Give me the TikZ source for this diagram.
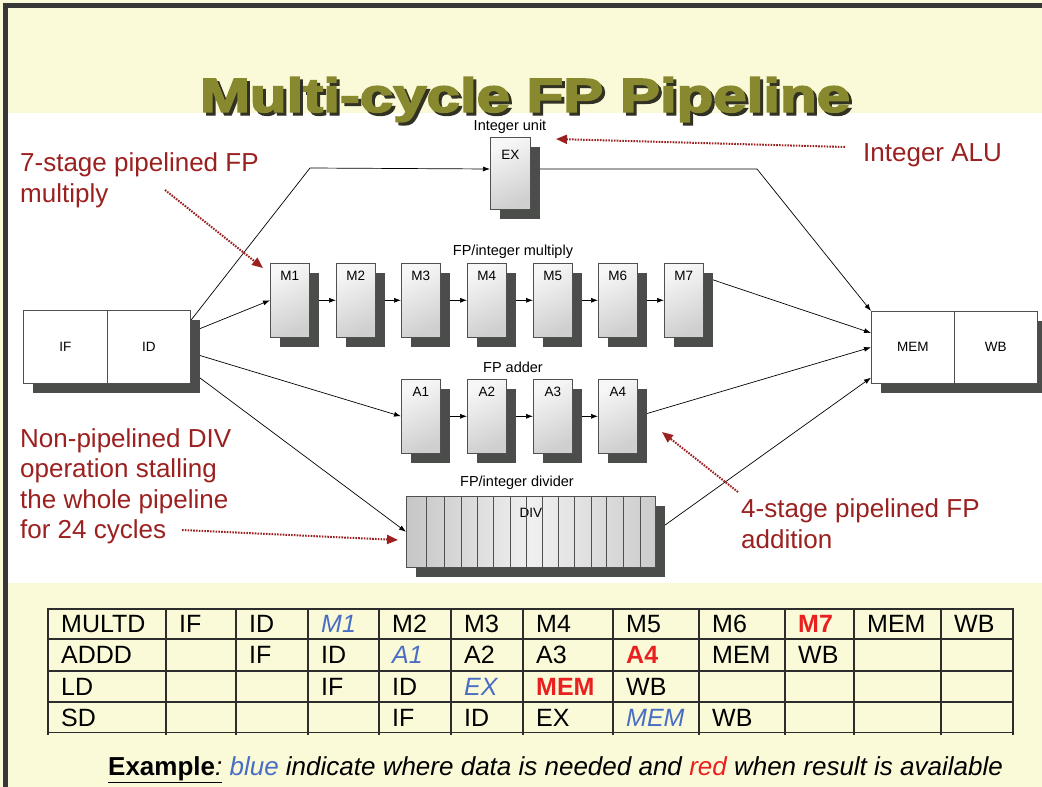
\documentclass[tikz,border=0pt]{standalone}
\usepackage{fontspec}
\usepackage{graphicx}
\setmainfont{Liberation Sans}
\newfontfamily\titlefont[BoldFeatures={FakeBold=3}]{Liberation Sans}
\usetikzlibrary{arrows.meta,shadows,calc}
\definecolor{bgyellow}{RGB}{250,250,216}
\definecolor{framegray}{RGB}{55,55,55}
\definecolor{titleolive}{RGB}{136,136,46}
\definecolor{titleshade}{RGB}{50,50,36}
\definecolor{annot}{RGB}{155,32,32}
\definecolor{shadowgray}{RGB}{74,77,74}
\definecolor{boxedge}{RGB}{80,80,80}
\definecolor{needblue}{RGB}{72,110,196}
\definecolor{readyred}{RGB}{234,32,32}
\definecolor{gridgray}{RGB}{45,45,45}
\newcommand\needfmt[1]{\textit{\textcolor{needblue}{#1}}}
\newcommand\readyfmt[1]{\textbf{\textcolor{readyred}{#1}}}
\pgfdeclarelayer{bg}
\pgfdeclarelayer{wires}
\pgfsetlayers{bg,wires,main}
\begin{document}
\begin{tikzpicture}[x=1pt,y=-1pt,
  wire/.style={draw=black, line width=0.7pt},
  arr/.style={wire, -{Latex[length=7pt,width=5pt]}},
  boxshadow/.style={general shadow={fill=shadowgray, draw=none, shadow xshift=10pt, shadow yshift=-10pt}},
  stagebox/.style={draw=boxedge, line width=0.6pt, top color=gray!6, bottom color=gray!38, shading angle=25,
     minimum width=39pt, minimum height=74pt, inner xsep=0pt, inner ysep=2pt,
     text height=15pt, text depth=55pt, anchor=north west,
     font=\fontsize{13.5}{15}\selectfont, boxshadow},
  plainbox/.style={draw=boxedge, line width=0.6pt, fill=white, minimum height=73pt,
     inner sep=0pt, anchor=north west, font=\fontsize{13.5}{15}\selectfont, boxshadow},
  unitlabel/.style={font=\fontsize{14.5}{16}\selectfont, inner sep=0pt},
  annotext/.style={text=annot, align=left, inner sep=0pt, anchor=north west},
  annarrow/.style={draw=annot, line width=2pt, dash pattern=on 1.6pt off 1.2pt,
     -{Triangle[length=11pt,width=9pt]}},
  celltext/.style={anchor=base west, inner sep=0pt, font=\fontsize{25}{28}\selectfont},
  titletext/.style={anchor=base, inner sep=0pt, font=\titlefont\bfseries\fontsize{48}{52}\selectfont}
]
\useasboundingbox (0,0) rectangle (1042,787);
\begin{pgfonlayer}{bg}
  \fill[bgyellow] (0,0) rectangle (1042,787);
  \fill[white] (8,113) rectangle (1042,583);
  \fill[framegray] (3,3) rectangle (1042,8);
  \fill[framegray] (3,3) rectangle (8,787);
\end{pgfonlayer}

% title
\node[titletext, text=titleshade] (titleshadow) at (528,115) {\scalebox{1.25}[1]{Multi-cycle FP Pipeline}};
\node[titletext, text=titleolive] (title) at (525,112) {\scalebox{1.25}[1]{Multi-cycle FP Pipeline}};

% unit labels
\node[unitlabel] (intunit) at (510,127) {Integer unit};
\node[unitlabel] (mullabel) at (513,252) {FP/integer multiply};
\node[unitlabel] (addlabel) at (513,367) {FP adder};
\node[unitlabel] (divlabel) at (517,483) {FP/integer divider};

% IF / ID and MEM / WB
\node[plainbox, minimum width=84pt] (ifn) at (23,310) {IF};
\node[plainbox, minimum width=83pt] (idn) at (107,310) {ID};
\node[plainbox, minimum width=83pt, minimum height=72pt] (mem) at (871,311) {MEM};
\node[plainbox, minimum width=83pt, minimum height=72pt] (wb) at (954,311) {WB};

% integer unit
\node[stagebox, minimum width=40pt, minimum height=72pt, text height=20pt, text depth=48pt] (ex) at (490,137) {EX};

% multiplier
\node[stagebox] (m1) at (270,263) {M1};
\node[stagebox] (m2) at (336,263) {M2};
\node[stagebox] (m3) at (401,263) {M3};
\node[stagebox] (m4) at (467,263) {M4};
\node[stagebox] (m5) at (533,263) {M5};
\node[stagebox] (m6) at (598,263) {M6};
\node[stagebox] (m7) at (664,263) {M7};

% adder
\node[stagebox] (a1) at (401,379) {A1};
\node[stagebox] (a2) at (467,379) {A2};
\node[stagebox] (a3) at (533,379) {A3};
\node[stagebox] (a4) at (598,379) {A4};

% divider
\node[stagebox, left color=gray!45, right color=gray!40, middle color=gray!12,
      minimum width=249pt, minimum height=71pt, text height=19pt, text depth=48pt] (div) at (406,496) {DIV};
\foreach \dx in {20.7,38,55,71.3,87.7,104,120,136.3,152.3,168.7,185,200.7,217.3,234}
  \draw[boxedge, line width=0.6pt] ($(div.north west)+(\dx,0)$) -- ($(div.south west)+(\dx,0)$);

% wires
\coordinate (exbendA) at (310,168);
\coordinate (exin) at (490,169);
\coordinate (exout) at (530,169);
\coordinate (exbendB) at (757,169);
\begin{pgfonlayer}{wires}
  \draw[arr] (idn.32) -- (exbendA) -- (exin);
  \draw[arr] (exout) -- (exbendB) -- (mem.north west);
  \draw[arr] (idn.19) -- (m1.west);
  \draw[arr] (m1.east) -- (m2.west);
  \draw[arr] (m2.east) -- (m3.west);
  \draw[arr] (m3.east) -- (m4.west);
  \draw[arr] (m4.east) -- (m5.west);
  \draw[arr] (m5.east) -- (m6.west);
  \draw[arr] (m6.east) -- (m7.west);
  \draw[arr] (m7.50) -- (mem.161);
  \draw[arr] (idn.-8) -- (a1.west);
  \draw[arr] (a1.east) -- (a2.west);
  \draw[arr] (a2.east) -- (a3.west);
  \draw[arr] (a3.east) -- (a4.west);
  \draw[arr] (a4.east) -- (mem.west);
  \draw[arr] (idn.-30) -- (div.west);
  \draw[arr] (div.east) -- (mem.216);
\end{pgfonlayer}

% annotations
\node[annotext, font=\fontsize{26}{31}\selectfont] (mulnote) at (20,152) {7-stage pipelined FP\\multiply};
\node[annotext, font=\fontsize{26}{31}\selectfont] (alunote) at (863,143) {Integer ALU};
\node[annotext, font=\fontsize{26}{30.5}\selectfont] (divnote) at (20,428) {Non-pipelined DIV\\operation stalling\\the whole pipeline\\for 24 cycles};
\node[annotext, font=\fontsize{26}{31}\selectfont] (addnote) at (741,498) {4-stage pipelined FP\\addition};
\coordinate (mulA) at (165,190);
\coordinate (mulB) at (263,268);
\coordinate (aluA) at (845,147);
\coordinate (aluB) at (556,139);
\coordinate (divA) at (182,530);
\coordinate (divB) at (398,540);
\coordinate (addA) at (738,492);
\coordinate (addB) at (662,432);
\draw[annarrow] (mulA) -- (mulB);
\draw[annarrow] (aluA) -- (aluB);
\draw[annarrow] (divA) -- (divB);
\draw[annarrow] (addA) -- (addB);

% table grid
\foreach \yy/\w in {609/1.3, 639/2.2, 671/2.2, 702/1.3, 732/1}
  \draw[gridgray, line width=\w pt] (48,\yy) -- (1013,\yy);
\foreach \xx/\w in {48/1.3,166/1.3,236/1.3,308/1.3,379/1.3,451/1.3,523/1.3,613/1.3,699/1.3,785/1.3,854/2.4,941/1.3,1013/1.3}
  \draw[gridgray, line width=\w pt] (\xx,608) -- (\xx,735);

% table text
\foreach \cx/\txt [count=\c] in {48/MULTD,166/IF,236/ID,308/{\needfmt{M1}},379/M2,451/M3,523/M4,613/M5,699/M6,785/{\readyfmt{M7}},854/MEM,941/WB}
  \node[celltext] (ra\c) at (\cx+13,632) {\txt};
\foreach \cx/\txt [count=\c] in {48/ADDD,236/IF,308/ID,379/{\needfmt{A1}},451/A2,523/A3,613/{\readyfmt{A4}},699/MEM,785/WB}
  \node[celltext] (rb\c) at (\cx+13,663) {\txt};
\foreach \cx/\txt [count=\c] in {48/LD,308/IF,379/ID,451/{\needfmt{EX}},523/{\readyfmt{MEM}},613/WB}
  \node[celltext] (rc\c) at (\cx+13,695) {\txt};
\foreach \cx/\txt [count=\c] in {48/SD,379/IF,451/ID,523/EX,613/{\needfmt{MEM}},699/WB}
  \node[celltext] (rd\c) at (\cx+13,726) {\txt};

% footnote
\node[anchor=base west, inner sep=0pt, font=\fontsize{26}{30}\selectfont] (example) at (108,775)
  {\underline{\textbf{Example}\textit{:}}\textit{ \textcolor{needblue}{blue} indicate where data is needed and \textcolor{readyred}{red} when result is available}};
\end{tikzpicture}
\end{document}
